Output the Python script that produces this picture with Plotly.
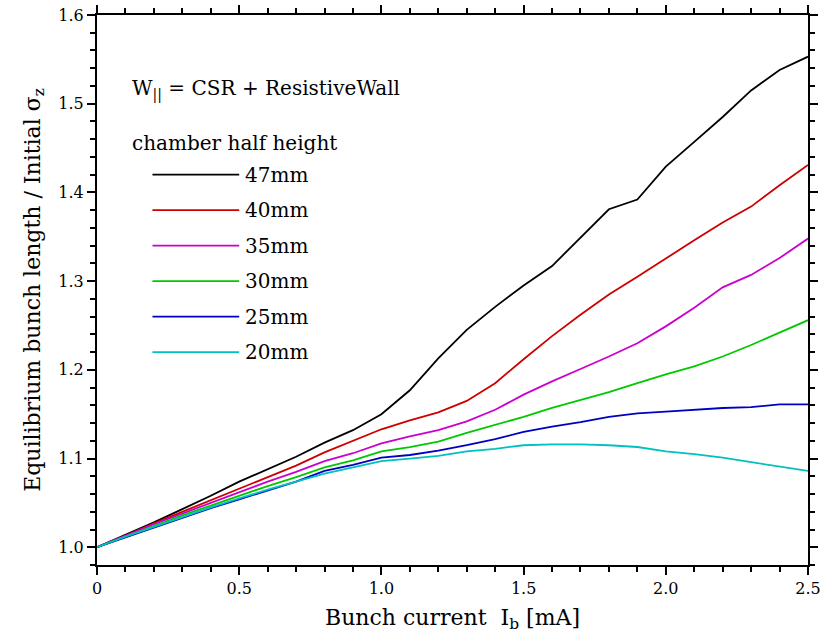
import plotly.graph_objects as go

current = [0.0, 0.1, 0.2, 0.3, 0.4, 0.5, 0.6, 0.7, 0.8, 0.9, 1.0, 1.1, 1.2,
           1.3, 1.4, 1.5, 1.6, 1.7, 1.8, 1.9, 2.0, 2.1, 2.2, 2.3, 2.4, 2.5]

h47 = [1.000, 1.014, 1.028, 1.043, 1.058, 1.074, 1.088, 1.102, 1.118, 1.132, 1.150, 1.177, 1.213,
       1.245, 1.271, 1.295, 1.317, 1.349, 1.381, 1.392, 1.429, 1.457, 1.485, 1.515, 1.538, 1.553]
h40 = [1.000, 1.013, 1.027, 1.040, 1.053, 1.066, 1.079, 1.092, 1.107, 1.120, 1.133, 1.143, 1.152,
       1.165, 1.185, 1.212, 1.238, 1.262, 1.285, 1.305, 1.326, 1.346, 1.366, 1.384, 1.408, 1.431]
h35 = [1.000, 1.013, 1.026, 1.038, 1.050, 1.062, 1.074, 1.085, 1.097, 1.106, 1.117, 1.125, 1.132,
       1.142, 1.155, 1.172, 1.187, 1.201, 1.215, 1.230, 1.249, 1.270, 1.293, 1.307, 1.326, 1.348]
h30 = [1.000, 1.012, 1.024, 1.036, 1.047, 1.058, 1.069, 1.079, 1.090, 1.098, 1.108, 1.113, 1.119,
       1.129, 1.138, 1.147, 1.157, 1.166, 1.175, 1.185, 1.195, 1.204, 1.215, 1.228, 1.242, 1.256]
h25 = [1.000, 1.011, 1.022, 1.033, 1.044, 1.054, 1.064, 1.074, 1.086, 1.093, 1.101, 1.104, 1.109,
       1.115, 1.122, 1.130, 1.136, 1.141, 1.147, 1.151, 1.153, 1.155, 1.157, 1.158, 1.161, 1.161]
h20 = [1.000, 1.012, 1.023, 1.034, 1.045, 1.055, 1.065, 1.074, 1.083, 1.090, 1.097, 1.100, 1.103,
       1.108, 1.111, 1.115, 1.116, 1.116, 1.115, 1.113, 1.108, 1.105, 1.101, 1.096, 1.091, 1.086]

labels = ["47mm", "40mm", "35mm", "30mm", "25mm", "20mm"]
colors = ["#000000", "#cc0000", "#cc00cc", "#00c800", "#0000c0", "#00c0c0"]
series = [h47, h40, h35, h30, h25, h20]
legend_y = [1.42, 1.38, 1.34, 1.30, 1.26, 1.22]

x_ticks = [0, 0.5, 1.0, 1.5, 2.0, 2.5]
x_ticktext = ["0", "0.5", "1.0", "1.5", "2.0", "2.5"]
y_ticks = [1.0, 1.1, 1.2, 1.3, 1.4, 1.5, 1.6]
y_ticktext = ["1.0", "1.1", "1.2", "1.3", "1.4", "1.5", "1.6"]

FONT = "DejaVu Serif"

fig = go.Figure()
for name, col, ys in zip(labels, colors, series):
    fig.add_trace(go.Scatter(x=current, y=ys, mode="lines", name=name,
                             line=dict(color=col, width=1.8), showlegend=False))

# manual legend
for name, col, ly in zip(labels, colors, legend_y):
    fig.add_shape(type="line", xref="x", yref="y", x0=0.195, x1=0.5, y0=ly, y1=ly,
                  line=dict(color=col, width=1.8))
    fig.add_annotation(x=0.515, y=ly, xref="x", yref="y", text=name, showarrow=False,
                       xanchor="left", yanchor="middle",
                       font=dict(family=FONT, size=20, color="black"))

fig.add_annotation(x=0.115, y=1.516, xref="x", yref="y",
                   text="W<sub>||</sub> = CSR + ResistiveWall", showarrow=False,
                   xanchor="left", yanchor="middle",
                   font=dict(family=FONT, size=20, color="black"))
fig.add_annotation(x=0.115, y=1.456, xref="x", yref="y",
                   text="chamber half height", showarrow=False,
                   xanchor="left", yanchor="middle",
                   font=dict(family=FONT, size=20, color="black"))

axis_common = dict(showline=True, linecolor="black", linewidth=2, mirror="ticks",
                   ticks="outside", ticklen=8, tickwidth=2, tickcolor="black",
                   showgrid=False, zeroline=False, automargin=False,
                   tickfont=dict(family=FONT, size=16, color="black"))

fig.update_xaxes(range=[0, 2.5], tickvals=x_ticks, ticktext=x_ticktext,
                 minor=dict(dtick=0.1, ticks="outside", ticklen=5, tickwidth=2,
                            tickcolor="black", showgrid=False),
                 title=dict(text="Bunch current  I<sub>b</sub> [mA]",
                            font=dict(family=FONT, size=22, color="black"), standoff=12),
                 **axis_common)
fig.update_yaxes(range=[0.98, 1.6], tickvals=y_ticks, ticktext=y_ticktext,
                 minor=dict(dtick=0.02, tick0=1.0, ticks="outside", ticklen=5, tickwidth=2,
                            tickcolor="black", showgrid=False),
                 title=dict(text="Equilibrium bunch length / Initial σ<sub>z</sub>",
                            font=dict(family=FONT, size=22, color="black"), standoff=12),
                 **axis_common)

fig.update_layout(width=822, height=638, autosize=False,
                  margin=dict(l=97, r=14, t=15, b=73),
                  plot_bgcolor="white", paper_bgcolor="white")

fig.write_html("out.html")
